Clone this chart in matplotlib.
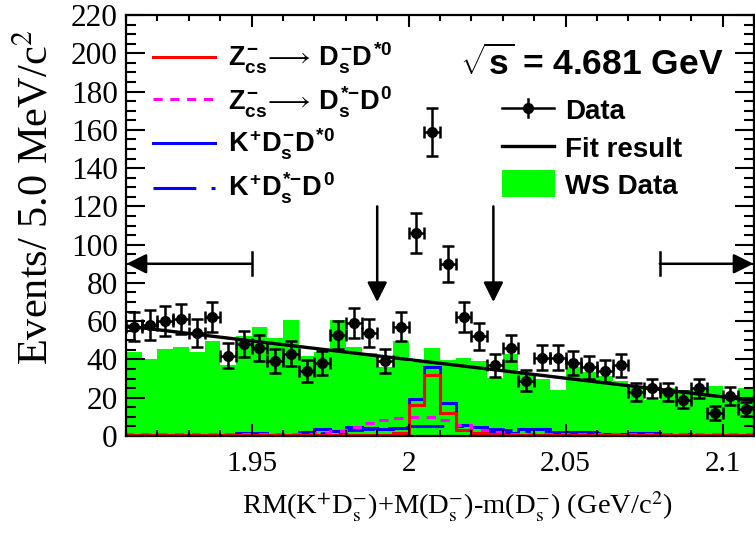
import numpy as np
import matplotlib
matplotlib.use("Agg")
import matplotlib.pyplot as plt
from matplotlib.patches import Rectangle

plt.rcParams['font.family'] = 'Liberation Serif'
plt.rcParams['mathtext.rm'] = 'Liberation Sans:bold'
plt.rcParams['mathtext.it'] = 'Liberation Sans:bold'
plt.rcParams['mathtext.bf'] = 'Liberation Sans:bold'

# 40 bins of 5 MeV between 1.91 and 2.11 GeV
edges = np.linspace(1.91, 2.11, 41)
centers = 0.5 * (edges[:-1] + edges[1:])

data = [57, 58, 60, 61, 54, 62, 42, 48, 46, 39,
        43, 34, 38, 53, 59, 54, 39, 57, 106, 159,
        90, 62, 52, 37, 46, 29, 41, 41, 38, 36,
        34, 37, 23, 25, 23, 19, 25, 12, 21, 14]

ws_data = [44.1, 40.2, 45.3, 46.3, 44.1, 49.8, 37.1, 52.3, 57.1, 51.0,
           60.6, 42.0, 44.0, 60.6, 46.3, 43.2, 36.2, 49.8, 38.8, 46.2,
           39.5, 40.6, 39.2, 30.1, 43.0, 32.5, 30.0, 24.0, 36.0, 33.2,
           31.5, 28.6, 25.3, 18.8, 24.9, 24.0, 25.5, 26.2, 21.0, 25.0]

zcs_dsdst0 = [0.3, 0.3, 0.3, 0.3, 0.3, 0.3, 0.3, 0.3, 0.3, 0.3,
              0.3, 0.3, 0.3, 0.3, 0.3, 0.3, 0.3, 1.5, 16.2, 31.9,
              11.8, 3.1, 1.5, 1.0, 0.5, 0.5, 0.5, 0.5, 0.5, 0.5,
              0.5, 0.5, 0.5, 0.5, 0.5, 0.5, 0.5, 0.5, 0.5, 0.5]

zcs_dsstd0 = [0.8, 0.8, 0.8, 0.8, 0.8, 0.8, 0.8, 0.8, 0.8, 0.8,
              0.8, 1.0, 1.5, 2.5, 4.5, 6.8, 8.3, 9.3, 9.8, 10.0,
              8.4, 5.5, 3.2, 2.0, 1.3, 0.8, 0.8, 0.8, 0.8, 0.8,
              0.8, 0.8, 0.8, 0.8, 0.8, 0.8, 0.8, 0.8, 0.8, 0.8]

k_dsdst0 = [0.5, 0.5, 0.5, 0.5, 0.5, 0.5, 0.5, 1.5, 1.5, 0.5,
            0.5, 2.3, 3.5, 2.5, 4.5, 4.0, 3.5, 4.0, 19.3, 35.9,
            17.1, 5.5, 4.9, 2.5, 1.5, 3.5, 3.5, 1.0, 2.3, 2.3,
            1.0, 0.8, 1.4, 1.4, 0.5, 0.5, 0.5, 0.5, 0.5, 0.5]

k_dsstd0 = [0.3, 0.3, 0.3, 0.3, 0.3, 0.3, 0.3, 0.3, 0.3, 0.3,
            0.3, 1.0, 1.5, 2.0, 3.0, 3.5, 4.0, 4.5, 5.0, 5.2,
            5.0, 5.0, 4.5, 3.5, 3.0, 2.5, 2.5, 2.0, 2.0, 1.8,
            1.5, 1.3, 1.2, 1.0, 0.9, 0.8, 0.7, 0.6, 0.5, 0.5]

# linear background fit, values at the two ends of the range
fit_x = [1.91, 2.11]
fit_y = [57.5, 18.5]

dashdot = (0, (14, 5, 2, 5))
dashed = (0, (3, 2.5))

fig = plt.figure(figsize=(7.55, 5.33), dpi=100)
ax = fig.add_axes([126 / 755, 97 / 533, 628 / 755, 421 / 533])

ax.stairs(ws_data, edges, fill=True, color='#00ff00', lw=0)
ax.stairs(k_dsstd0, edges, color='#0000ff', lw=2, linestyle=dashdot)
ax.stairs(k_dsdst0, edges, color='#0000ff', lw=2.2)
ax.stairs(zcs_dsstd0, edges, color='#ff00ff', lw=2.2, linestyle=dashed)
ax.stairs(zcs_dsdst0, edges, color='#ff0000', lw=2.2)
ax.plot(fit_x, fit_y, color='k', lw=2.4)
ax.errorbar(centers, data, xerr=0.0025, yerr=np.sqrt(data), fmt='o', color='k',
            ms=7, elinewidth=1.8, capsize=4, capthick=1.8)

# signal window and sideband markers
arrow = dict(arrowstyle='-|>', color='k', lw=1.8, mutation_scale=30,
             shrinkA=0, shrinkB=0)
for xs in (1.99, 2.027):
    ax.annotate('', xy=(xs, 70), xytext=(xs, 120), arrowprops=arrow)
ax.annotate('', xy=(1.9102, 90), xytext=(1.95, 90), arrowprops=arrow)
ax.annotate('', xy=(2.1098, 90), xytext=(2.08, 90), arrowprops=arrow,
            annotation_clip=False)
ax.plot([1.95, 1.95], [84, 96], color='k', lw=1.8)
ax.plot([2.08, 2.08], [84, 96], color='k', lw=1.8)

ax.set_xlim(1.91, 2.11)
ax.set_ylim(0, 220)
ax.set_xticks([1.95, 2.0, 2.05, 2.1])
ax.set_xticklabels(['1.95', '2', '2.05', '2.1'])
ax.set_xticks(np.arange(1.91, 2.111, 0.01), minor=True)
ax.set_yticks(np.arange(0, 221, 20))
ax.set_yticks(np.arange(0, 221, 5), minor=True)
ax.tick_params(axis='x', which='major', direction='in', top=True, length=8.5,
               width=1.5, labelsize=21, pad=11)
ax.tick_params(axis='x', which='minor', direction='in', top=True, length=4.5,
               width=1.5)
ax.tick_params(axis='y', which='major', direction='in', right=True, length=13.5,
               width=1.5, labelsize=22.5, pad=6)
ax.tick_params(axis='y', which='minor', direction='in', right=True, length=7,
               width=1.5)
for s in ax.spines.values():
    s.set_linewidth(1.6)

fig.text(36 / 755, 1 - 197 / 533, 'Events/ 5.0 MeV/c$^{2}$', rotation=90,
         ha='center', va='center', fontsize=30.5, math_fontfamily='stix')
fig.text(457 / 755, 1 - 515 / 533,
         r'RM(K$^{+}$D$_{\mathrm{s}}^{-}$)+M(D$_{\mathrm{s}}^{-}$)-m(D$_{\mathrm{s}}^{-}$) (GeV/c$^{2}$)',
         ha='center', va='baseline', fontsize=20.5, math_fontfamily='stix')


def fx(px):
    return (px - 126) / 628


def fy(py):
    return (436 - py) / 421


tr = ax.transAxes
sans = dict(family='Liberation Sans', weight='bold', math_fontfamily='custom')

# component legend
entries = [
    (r'$Z_{cs}^{-}\!\longrightarrow\,D_{s}^{-}D^{*0}$', dict(color='#ff0000'), 56.7, 67),
    (r'$Z_{cs}^{-}\!\longrightarrow\,D_{s}^{{*}{-}}D^{0}$', dict(color='#ff00ff', linestyle=dashed), 99.3, 110),
    (r'$K^{+}D_{s}^{-}D^{*0}$', dict(color='#0000ff'), 143.3, 153),
    (r'$K^{+}D_{s}^{{*}{-}}D^{0}$', dict(color='#0000ff', linestyle=dashdot), 187.7, 197),
]
for label, style, ly, base in entries:
    ax.plot([fx(153), fx(215)], [fy(ly), fy(ly)], transform=tr, lw=2.2, **style)
    ax.text(fx(228), fy(base), label, transform=tr, fontsize=19.5, va='baseline', **sans)

ax.text(fx(460), fy(75), r'$\sqrt{s}$ = 4.681 GeV', transform=tr, fontsize=25.5,
        va='baseline', **sans)

# data / fit / WS legend
ax.plot([fx(502), fx(554)], [fy(108), fy(108)], transform=tr, color='k', lw=1.8)
ax.plot([fx(528), fx(528)], [fy(99), fy(117)], transform=tr, color='k', lw=1.8)
ax.plot([fx(528)], [fy(108)], 'o', transform=tr, color='k', ms=7)
ax.text(fx(565), fy(119), 'Data', transform=tr, fontsize=20, va='baseline', **sans)
ax.plot([fx(502), fx(554)], [fy(146), fy(146)], transform=tr, color='k', lw=2.4)
ax.text(fx(565), fy(157), 'Fit result', transform=tr, fontsize=20, va='baseline', **sans)
ax.add_patch(Rectangle((fx(502), fy(197)), fx(555) - fx(502), fy(170) - fy(197),
                       transform=tr, color='#00ff00', lw=0))
ax.text(fx(565), fy(194), 'WS Data', transform=tr, fontsize=20, va='baseline', **sans)

fig.savefig('out.png', dpi=100)
